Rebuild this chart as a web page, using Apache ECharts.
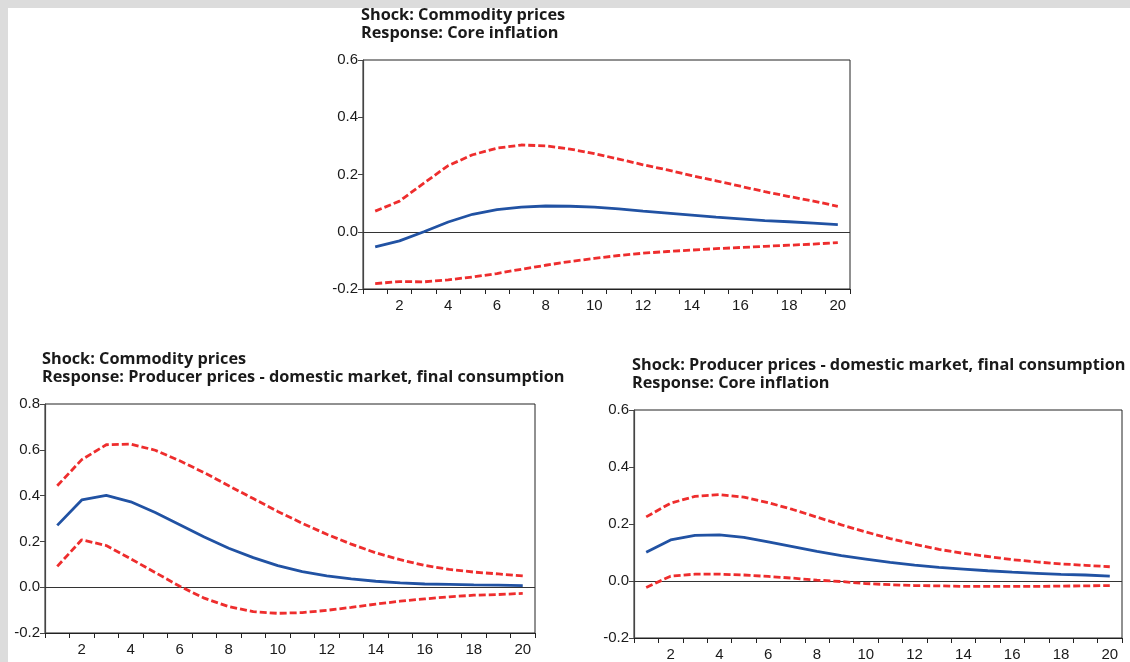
<!DOCTYPE html>
<html>
<head>
<meta charset="utf-8">
<script src="https://cdn.jsdelivr.net/npm/echarts@6/dist/echarts.min.js"></script>
<style>
html,body{margin:0;padding:0;background:#dcdcdc;}
#bg{position:absolute;left:8px;top:8px;width:1122px;height:654px;background:#ffffff;}
#main{position:absolute;left:0;top:0;width:1130px;height:662px;}
</style>
</head>
<body>
<div id="bg"></div>
<div id="main"></div>
<script>
// Periods
const periods = [1,2,3,4,5,6,7,8,9,10,11,12,13,14,15,16,17,18,19,20];

// Panel 1: Shock commodity prices -> Core inflation
const p1Response = [-0.053,-0.032,0.000,0.034,0.061,0.077,0.086,0.090,0.089,0.086,0.080,0.072,0.065,0.058,0.051,0.045,0.039,0.035,0.030,0.025];
const p1Upper    = [0.072,0.107,0.170,0.231,0.269,0.292,0.303,0.300,0.289,0.273,0.254,0.234,0.216,0.196,0.178,0.159,0.140,0.123,0.107,0.089];
const p1Lower    = [-0.181,-0.174,-0.175,-0.168,-0.158,-0.146,-0.131,-0.117,-0.104,-0.093,-0.083,-0.075,-0.069,-0.064,-0.059,-0.055,-0.051,-0.047,-0.043,-0.038];

// Panel 2: Shock commodity prices -> Producer prices
const p2Response = [0.270,0.381,0.401,0.373,0.326,0.273,0.219,0.170,0.129,0.094,0.068,0.049,0.036,0.026,0.019,0.014,0.012,0.010,0.009,0.007];
const p2Upper    = [0.443,0.557,0.622,0.625,0.598,0.552,0.500,0.443,0.387,0.331,0.279,0.231,0.188,0.150,0.120,0.095,0.078,0.066,0.058,0.049];
const p2Lower    = [0.091,0.207,0.182,0.124,0.064,0.004,-0.048,-0.085,-0.107,-0.114,-0.111,-0.101,-0.088,-0.074,-0.061,-0.051,-0.042,-0.035,-0.032,-0.027];

// Panel 3: Shock producer prices -> Core inflation
const p3Response = [0.101,0.144,0.160,0.162,0.153,0.137,0.121,0.104,0.089,0.077,0.065,0.056,0.048,0.042,0.036,0.031,0.027,0.023,0.021,0.017];
const p3Upper    = [0.225,0.273,0.297,0.303,0.294,0.275,0.251,0.224,0.197,0.172,0.149,0.129,0.111,0.097,0.086,0.075,0.067,0.060,0.055,0.050];
const p3Lower    = [-0.023,0.017,0.024,0.024,0.021,0.016,0.010,0.003,-0.002,-0.009,-0.013,-0.016,-0.017,-0.019,-0.019,-0.019,-0.019,-0.018,-0.017,-0.016];

const titles = [
  'Shock: Commodity prices\nResponse: Core inflation',
  'Shock: Commodity prices\nResponse: Producer prices - domestic market, final consumption',
  'Shock: Producer prices - domestic market, final consumption\nResponse: Core inflation'
];
const yMins = [-0.2,-0.2,-0.2];
const yMaxs = [0.6,0.8,0.6];

const grids = [
  {left:363, top:60, width:487, height:229},
  {left:45, top:404, width:490, height:229},
  {left:634, top:410, width:488, height:230}
];
const titlePos = [{left:361, top:7},{left:42, top:351},{left:632, top:357}];

const BLUE = '#2152a3';
const RED = '#ee2d2d';
const TXT = '#1a1a1a';

const chart = echarts.init(document.getElementById('main'), null, {renderer:'canvas'});

const option = {
  animation:false,
  backgroundColor:'transparent',
  title: titles.map((t,i)=>({
    text:t, left:titlePos[i].left, top:titlePos[i].top, padding:0,
    textStyle:{fontFamily:'Open Sans', fontWeight:'bold', fontSize:16.3, lineHeight:17.5, color:TXT}
  })),
  grid: grids.map(g=>Object.assign({show:true, borderColor:'#222', borderWidth:1, backgroundColor:'#fff'}, g)),
  xAxis: grids.map((g,i)=>({
    type:'category', gridIndex:i, data:periods, boundaryGap:true,
    axisLine:{onZero:false, lineStyle:{color:'#222', width:1}},
    axisTick:{show:true, interval:0, length:5, lineStyle:{color:'#222'}},
    axisLabel:{interval:(idx)=>idx%2===1, fontFamily:'Liberation Sans', fontSize:15, color:TXT, margin:9},
    splitLine:{show:false}
  })),
  yAxis: grids.map((g,i)=>({
    type:'value', gridIndex:i, min:yMins[i], max:yMaxs[i], interval:0.2,
    axisLine:{show:true, lineStyle:{color:'#444', width:1.2}},
    axisTick:{show:true, length:5, lineStyle:{color:'#444'}},
    axisLabel:{fontFamily:'Liberation Sans', fontSize:15, color:TXT, margin:5, formatter:(v)=>v.toFixed(1)},
    splitLine:{show:false}
  })),
  series: []
};

const panels = [[p1Response,p1Upper,p1Lower],[p2Response,p2Upper,p2Lower],[p3Response,p3Upper,p3Lower]];
panels.forEach((p,i)=>{
  option.series.push({
    type:'line', xAxisIndex:i, yAxisIndex:i, data:p[1], symbol:'none', smooth:false,
    lineStyle:{color:RED, width:2.8, type:[7,3]}, z:3
  });
  option.series.push({
    type:'line', xAxisIndex:i, yAxisIndex:i, data:p[2], symbol:'none', smooth:false,
    lineStyle:{color:RED, width:2.8, type:[7,3]}, z:3
  });
  option.series.push({
    type:'line', xAxisIndex:i, yAxisIndex:i, data:p[0], symbol:'none', smooth:false,
    lineStyle:{color:BLUE, width:2.8}, z:4,
    markLine:{silent:true, symbol:'none', label:{show:false}, animation:false,
      lineStyle:{color:'#333', width:1, type:'solid'}, data:[{yAxis:0}], z:2}
  });
});

chart.setOption(option);
</script>
</body>
</html>
